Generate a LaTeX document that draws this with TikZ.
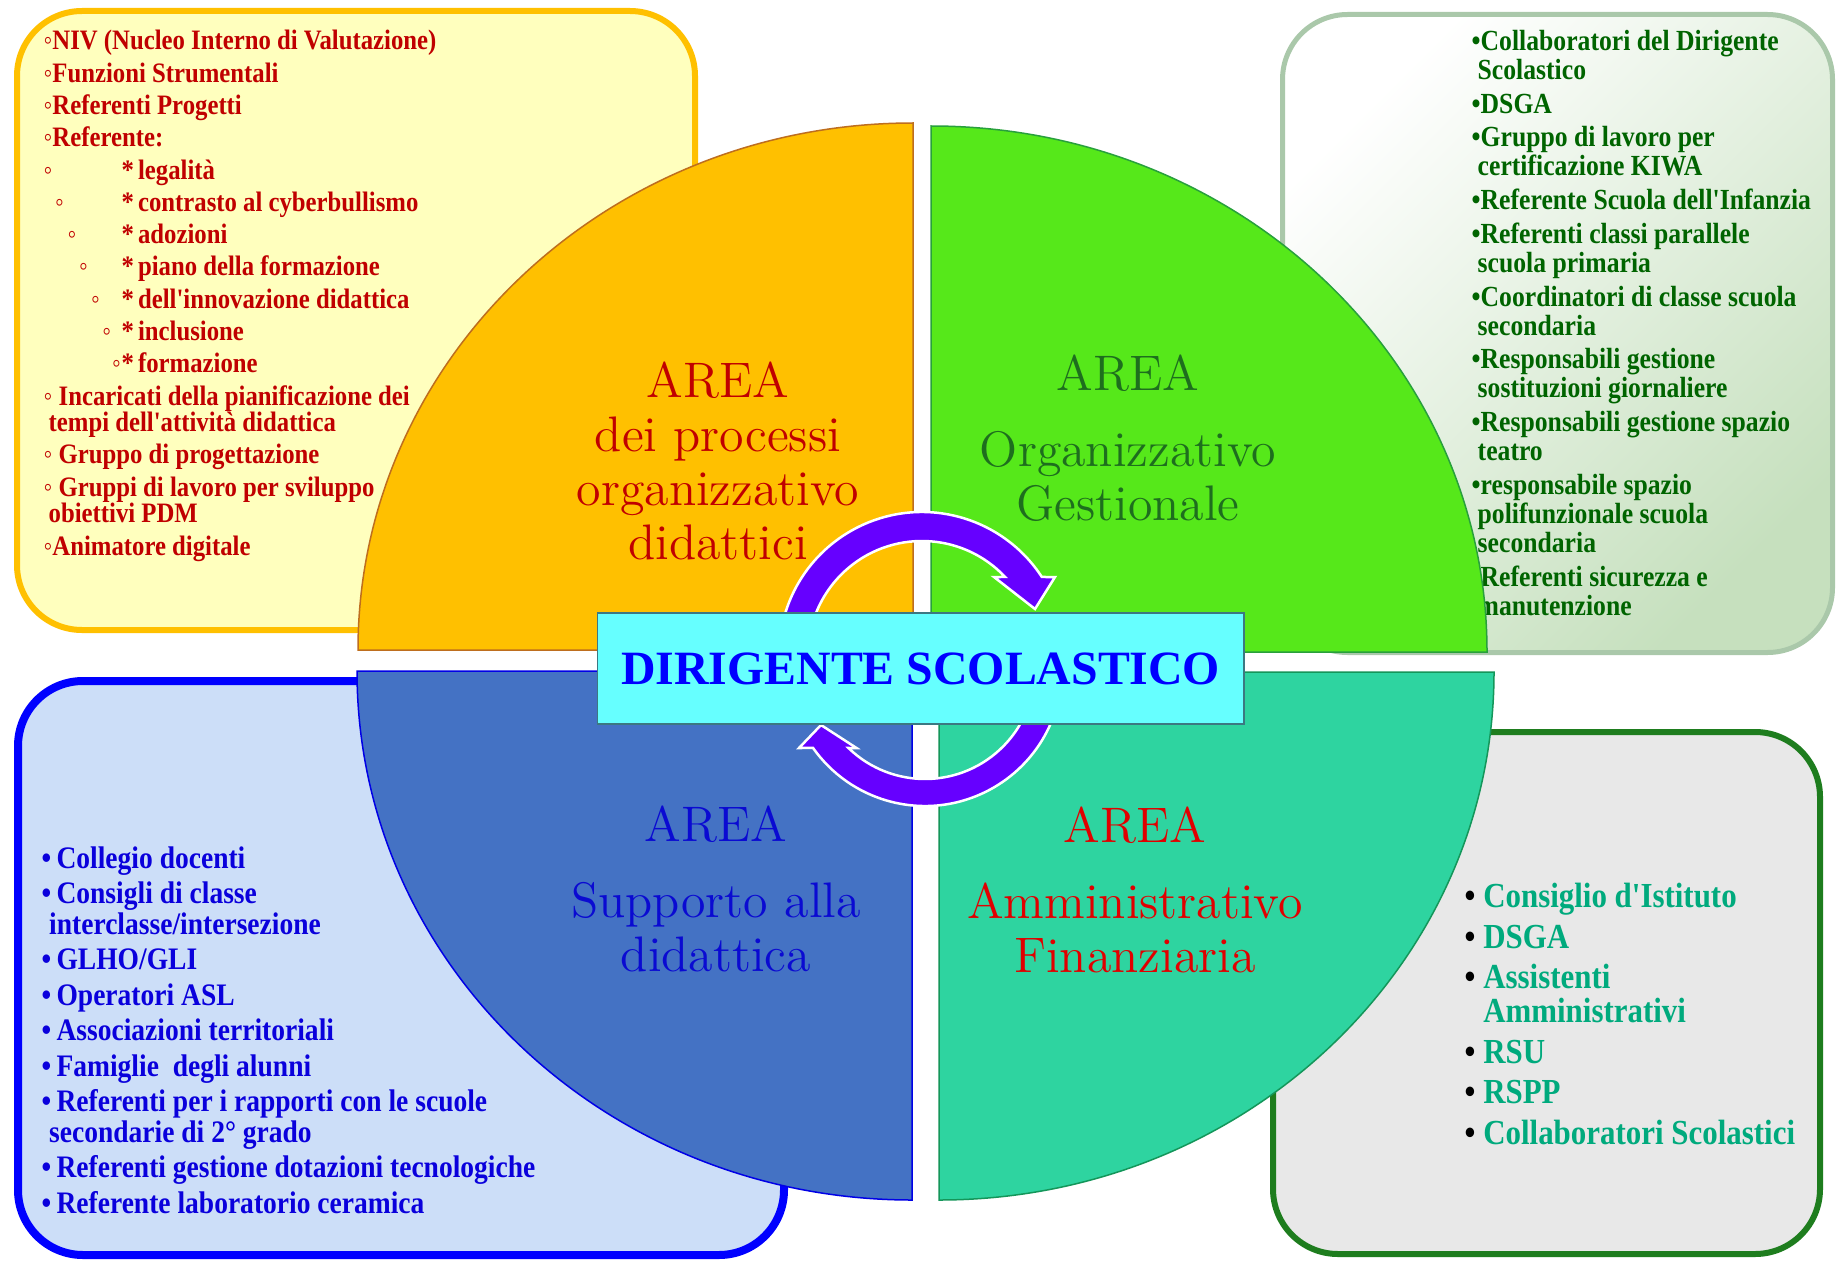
\documentclass[tikz,border=0pt]{standalone}
\usepackage{fontspec}
\usepackage{xcolor}
\usetikzlibrary{calc,positioning}
\newfontfamily\listfont[FakeStretch=0.88]{Liberation Serif}
\newfontfamily\boxfont{Liberation Serif}
\definecolor{tlBorder}{RGB}{255,192,0}
\definecolor{tlFill}{RGB}{255,255,190}
\definecolor{tlText}{RGB}{192,0,0}
\definecolor{trBorder}{RGB}{170,200,170}
\definecolor{trFill}{RGB}{198,224,190}
\definecolor{trText}{RGB}{0,100,0}
\definecolor{blBorder}{RGB}{0,0,255}
\definecolor{blFill}{RGB}{204,222,248}
\definecolor{blText}{RGB}{10,0,220}
\definecolor{brBorder}{RGB}{30,125,30}
\definecolor{brFill}{RGB}{232,232,232}
\definecolor{brText}{RGB}{0,170,125}
\definecolor{qOrange}{RGB}{255,192,0}
\definecolor{qOrangeLine}{RGB}{190,110,30}
\definecolor{qGreen}{RGB}{86,232,26}
\definecolor{qGreenLine}{RGB}{40,160,60}
\definecolor{qBlue}{RGB}{68,114,196}
\definecolor{qBlueLine}{RGB}{0,0,230}
\definecolor{qTeal}{RGB}{46,212,160}
\definecolor{qTealLine}{RGB}{20,150,90}
\definecolor{oraText}{RGB}{192,0,0}
\definecolor{greText}{RGB}{30,110,30}
\definecolor{bluText}{RGB}{10,10,210}
\definecolor{teaText}{RGB}{225,0,0}
\definecolor{arrowPurple}{RGB}{102,0,255}
\definecolor{boxCyan}{RGB}{102,255,255}
\definecolor{boxLine}{RGB}{60,120,130}
\definecolor{boxText}{RGB}{0,0,255}
% sub-item of "Referente:" : ring bullet shifted by #1, star column fixed
\newcommand{\refsub}[2]{\makebox[0pt][l]{\hspace*{#1}◦}\hspace*{7.8mm}*\hspace{0.4mm}#2}
\newcommand{\blackbul}{\textcolor{black}{•}}

\begin{document}
\begin{tikzpicture}[x=0.1mm,y=0.1mm,
  panel/.style={line width=0.6mm, rounded corners=6.5mm},
  quarter/.style={line width=0.15mm},
  listtext/.style={align=left, inner sep=0pt, anchor=base west},
  arealabel/.style={align=center, inner sep=0pt, anchor=base, font=\fontsize{14.2}{15.36}\selectfont},
  arrowband/.style={fill=arrowPurple, draw=white, line width=0.25mm},
  dsbox/.style={fill=boxCyan, draw=boxLine, line width=0.15mm, minimum width=64.65mm,
    minimum height=11.1mm, inner sep=0pt, text=boxText, font=\boxfont\bfseries\fontsize{13.6}{16}\selectfont}]
\path[use as bounding box, fill=white] (0,0) rectangle (1837,1262);

% side panels
\draw[panel, draw=tlBorder, fill=tlFill] (17,632) rectangle (695,1251);
\draw[panel, draw=trBorder, line width=0.5mm, top color=white, bottom color=trFill, shading angle=45] (1282.5,609.5) rectangle (1832.5,1247.5);
\draw[panel, draw=blBorder, line width=0.8mm, fill=blFill] (18,7) rectangle (784,581);
\draw[panel, draw=brBorder, fill=brFill] (1273,8) rectangle (1820,530);

% lists (anchor is the baseline of the last line)
\node[listtext, text=tlText, font={\listfont\bfseries\fontsize{8}{7.54}\selectfont\lineskiplimit=-5pt}] (tllist) at (43,707) {%
◦NIV (Nucleo Interno di Valutazione)\\[1.65pt]
◦Funzioni Strumentali\\[1.65pt]
◦Referenti Progetti\\[1.65pt]
◦Referente:\\[1.65pt]
\refsub{0mm}{legalità}\\[1.65pt]
\refsub{1.14mm}{contrasto al cyberbullismo}\\[1.65pt]
\refsub{2.4mm}{adozioni}\\[1.65pt]
\refsub{3.55mm}{piano della formazione}\\[1.65pt]
\refsub{4.75mm}{dell'innovazione didattica}\\[1.65pt]
\refsub{5.87mm}{inclusione}\\[1.65pt]
\refsub{6.85mm}{formazione}\\[1.65pt]
◦ Incaricati della pianificazione dei\\
\hspace*{0.5mm}tempi dell'attività didattica\\[1.65pt]
◦ Gruppo di progettazione\\[1.65pt]
◦ Gruppi di lavoro per sviluppo\\
\hspace*{0.5mm}obiettivi PDM\\[1.65pt]
◦Animatore digitale};

\node[listtext, text=trText, font={\listfont\bfseries\fontsize{8.3}{8.25}\selectfont\lineskiplimit=-5pt}] (trlist) at (1471,647) {%
•Collaboratori del Dirigente\\
\hspace*{0.6mm}Scolastico\\[1.35pt]
•DSGA\\[1.35pt]
•Gruppo di lavoro per\\
\hspace*{0.6mm}certificazione KIWA\\[1.35pt]
•Referente Scuola dell'Infanzia\\[1.35pt]
•Referenti classi parallele\\
\hspace*{0.6mm}scuola primaria\\[1.35pt]
•Coordinatori di classe scuola\\
\hspace*{0.6mm}secondaria\\[1.35pt]
•Responsabili gestione\\
\hspace*{0.6mm}sostituzioni giornaliere\\[1.35pt]
•Responsabili gestione spazio\\
\hspace*{0.6mm}teatro\\[1.35pt]
•responsabile spazio\\
\hspace*{0.6mm}polifunzionale scuola\\
\hspace*{0.6mm}secondaria\\[1.35pt]
•Referenti sicurezza e\\
\hspace*{0.6mm}manutenzione};

\node[listtext, text=blText, font={\listfont\bfseries\fontsize{8.9}{8.68}\selectfont\lineskiplimit=-5pt}] (bllist) at (41,49) {%
•\,Collegio docenti\\[1.42pt]
•\,Consigli di classe\\
\hspace*{0.75mm}interclasse/intersezione\\[1.42pt]
•\,GLHO/GLI\\[1.42pt]
•\,Operatori ASL\\[1.42pt]
•\,Associazioni territoriali\\[1.42pt]
•\,Famiglie\ \ degli alunni\\[1.42pt]
•\,Referenti per i rapporti con le scuole\\
\hspace*{0.75mm}secondarie di 2° grado\\[1.42pt]
•\,Referenti gestione dotazioni tecnologiche\\[1.42pt]
•\,Referente laboratorio ceramica};

\node[listtext, text=brText, font={\listfont\bfseries\fontsize{10}{9.67}\selectfont\lineskiplimit=-5pt}] (brlist) at (1464,118) {%
\blackbul\ Consiglio d'Istituto\\[1.85pt]
\blackbul\ DSGA\\[1.85pt]
\blackbul\ Assistenti\\
\phantom{\blackbul\ }Amministrativi\\[1.85pt]
\blackbul\ RSU\\[1.85pt]
\blackbul\ RSPP\\[1.85pt]
\blackbul\ Collaboratori Scolastici};

% four areas
\coordinate (oc) at (913,612);
\coordinate (gc) at (931,610);
\coordinate (bc) at (912,591);
\coordinate (tc) at (939,590);
\draw[quarter, fill=qOrange, draw=qOrangeLine] (oc) -- ++(-555,0) arc[start angle=180, end angle=90, x radius=555, y radius=527] -- cycle;
\draw[quarter, fill=qGreen, draw=qGreenLine] (gc) -- ++(556,0) arc[start angle=0, end angle=90, x radius=556, y radius=526] -- cycle;
\draw[quarter, fill=qBlue, draw=qBlueLine] (bc) -- ++(-555,0) arc[start angle=180, end angle=270, x radius=555, y radius=529] -- cycle;
\draw[quarter, fill=qTeal, draw=qTealLine] (tc) -- ++(555,0) arc[start angle=0, end angle=-90, x radius=555, y radius=528] -- cycle;

\node[arealabel, text=oraText] (oralabel) at (718,703) {AREA\\dei processi\\organizzativo\\didattici};
\node[arealabel, text=greText] (grelabel) at (1128,742) {AREA\\[6pt]Organizzativo\\Gestionale};
\node[arealabel, text=bluText] (blulabel) at (716,291) {AREA\\[6pt]Supporto alla\\didattica};
\node[arealabel, text=teaText] (tealabel) at (1135,290) {AREA\\[6pt]Amministrativo\\Finanziaria};

% circular arrows
\coordinate (c1) at (922,607);
\coordinate (c2) at (925,593);
\draw[arrowband] ($(c1)+(165:143)$) arc[start angle=165, end angle=33.06, radius=143]
  -- (1055,685) -- (1035,653) -- (994,685) -- ($(c1)+(43.18:114)$)
  arc[start angle=43.18, end angle=165, radius=114] -- cycle;
\draw[arrowband] ($(c2)+(345:137)$) arc[start angle=345, end angle=215.2, radius=137]
  -- (799,514) -- (821,537) -- (856.5,514) -- ($(c2)+(225.9:110)$)
  arc[start angle=225.9, end angle=345, radius=110] -- cycle;

\node[dsbox] (ds) at (920.75,593.5) {DIRIGENTE SCOLASTICO};
\end{tikzpicture}
\end{document}
